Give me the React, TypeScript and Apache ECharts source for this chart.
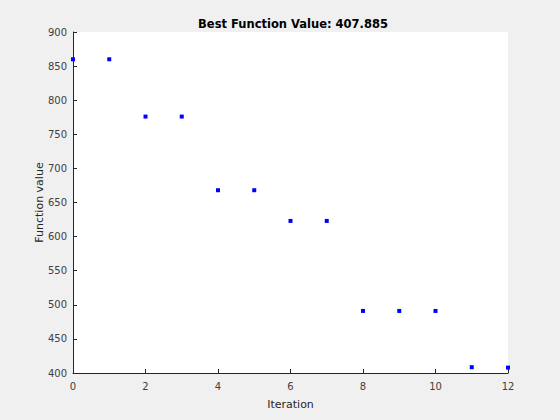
import React, { useEffect, useRef } from "react";
import * as echarts from "echarts";

const iterations = [0, 1, 2, 3, 4, 5, 6, 7, 8, 9, 10, 11, 12];
const values = [860, 860, 776, 776, 668, 668, 623, 623, 491, 491, 491, 408.5, 407.885];
const titleText = "Best Function Value: 407.885";

export default function App() {
  const ref = useRef<HTMLDivElement>(null);
  useEffect(() => {
    if (!ref.current) return;
    const chart = echarts.init(ref.current, undefined, { renderer: "svg" });
    const font = "DejaVu Sans";
    chart.setOption({
      animation: false,
      backgroundColor: "#f0f0f0",
      title: {
        text: titleText,
        left: 288,
        top: 13,
        textAlign: "center",
        textStyle: { fontFamily: font, fontSize: 11.5, fontWeight: "bold", color: "#000" },
      },
      grid: {
        left: 73,
        right: 52,
        top: 32,
        bottom: 47,
        show: true,
        backgroundColor: "#ffffff",
        borderWidth: 0,
      },
      xAxis: {
        type: "value",
        min: 0,
        max: 12,
        interval: 2,
        name: "Iteration",
        nameLocation: "middle",
        nameGap: 26,
        nameMoveOverlap: false,
        nameTextStyle: { fontFamily: font, fontSize: 11, color: "#262626" },
        axisLine: { show: true, lineStyle: { color: "#262626", width: 1 } },
        axisTick: { show: true, inside: true, length: 4, lineStyle: { color: "#262626" } },
        axisLabel: { fontFamily: font, fontSize: 10, color: "#404040", margin: 8 },
        splitLine: { show: false },
      },
      yAxis: {
        type: "value",
        min: 400,
        max: 900,
        interval: 50,
        name: "Function value",
        nameLocation: "middle",
        nameGap: 28,
        nameMoveOverlap: false,
        nameTextStyle: { fontFamily: font, fontSize: 11, color: "#262626" },
        axisLine: { show: true, lineStyle: { color: "#262626", width: 1 } },
        axisTick: { show: true, inside: true, length: 4, lineStyle: { color: "#262626" } },
        axisLabel: { fontFamily: font, fontSize: 10, color: "#404040", margin: 6 },
        splitLine: { show: false },
      },
      series: [
        {
          type: "scatter",
          data: iterations.map((x, i) => [x, values[i]]),
          symbol: "rect",
          symbolSize: 4,
          itemStyle: { color: "#0000ff", opacity: 1 },
          clip: false,
        },
      ],
    });
    return () => chart.dispose();
  }, []);
  return <div ref={ref} style={{ width: 560, height: 420, position: "absolute", left: 0, top: 0 }} />;
}
